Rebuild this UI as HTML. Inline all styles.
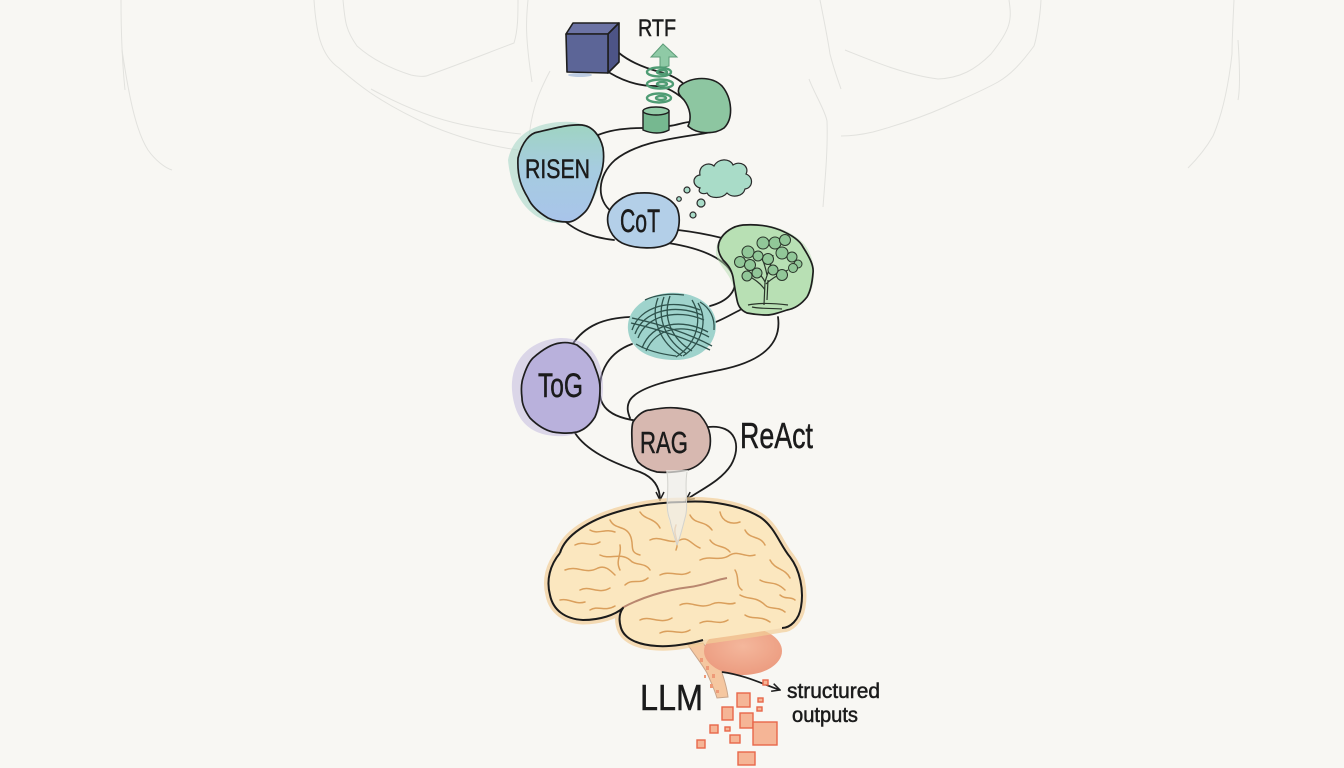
<!DOCTYPE html>
<html><head><meta charset="utf-8"><style>
html,body{margin:0;padding:0;background:#f8f7f3;}
svg{display:block;}
text{font-family:"Liberation Sans",sans-serif;fill:#1b1b1b;stroke:#1b1b1b;stroke-width:0.5;}
</style></head><body>
<svg width="1344" height="768" viewBox="0 0 1344 768" xmlns="http://www.w3.org/2000/svg">
<defs>
<marker id="ah" viewBox="0 0 10 10" refX="9" refY="5" markerWidth="10" markerHeight="10" orient="auto" markerUnits="userSpaceOnUse"><path d="M1,1 L9,5 L1,9" fill="none" stroke="#1e1e1e" stroke-width="1.5"/></marker>
<linearGradient id="gRisen" x1="0" y1="0" x2="0" y2="1"><stop offset="0" stop-color="#9fd4c2"/><stop offset="0.45" stop-color="#a6cce0"/><stop offset="1" stop-color="#a8c4ea"/></linearGradient>
<radialGradient id="gCb" cx="0.5" cy="0.4" r="0.6"><stop offset="0" stop-color="#f4b79c"/><stop offset="1" stop-color="#ec9c80"/></radialGradient>
</defs>
<rect width="1344" height="768" fill="#f8f7f3"/>

<!-- faint pencil background -->
<g fill="none" stroke="#e2e2de" stroke-width="1">
<path d="M121,0 C121,40 123,70 125,90"/>
<path d="M122,50 C128,90 135,130 148,150 C155,160 165,168 172,170"/>
<path d="M314,0 C316,30 320,55 339,68 C355,82 375,100 429,125 C460,138 490,146 518,150"/>
<path d="M343,0 C345,20 345,29 357,46 C375,62 395,70 411,75 C420,77 425,77 429,75 C460,64 490,52 514,43 C518,30 518,15 518,0"/>
<path d="M371,89 C400,105 430,118 464,125 C490,130 510,133 521,134"/>
<path d="M528,0 C526,20 525,36 532,82 M550,71 C540,90 530,110 528,150"/>
<path d="M820,0 C824,20 828,40 830,54 C834,70 838,80 841,89"/>
<path d="M1009,0 C1012,20 1011,29 991,54 C975,70 960,78 938,79 C905,75 870,60 845,50"/>
<path d="M1041,0 C1040,20 1036,40 1034,46 C1020,65 1010,75 998,82 C980,92 960,100 945,107 C920,118 895,126 873,132 C860,135 848,136 841,136"/>
<path d="M809,79 C815,95 825,110 827,121 C828,150 825,180 823,207"/>
<path d="M1234,0 C1233,20 1232,40 1232,54 C1228,90 1222,115 1213,136 C1205,150 1196,160 1188,168"/>
<path d="M1238,40 C1240,70 1240,90 1238,100"/>
</g>

<!-- connectors -->
<g fill="none" stroke="#1e1e1e" stroke-width="1.8" stroke-linecap="round">
<path d="M619,53 C630,62 645,68 660,72 C672,75 680,80 686,86"/>
<path d="M610,73 C625,82 640,86 655,86 C668,86 680,95 690,105"/>
<path d="M598,135 C610,130 625,128 642,128"/>
<path d="M669,126 C678,125 684,122 690,122"/>
<path d="M712,132 C680,138 640,140 615,160 C597,176 596,200 612,212"/>
<path d="M614,240 C595,238 570,232 554,209" marker-end="url(#ah)"/>
<path d="M678,230 C695,232 710,235 722,238"/>
<path d="M668,243 C700,248 725,258 733,275 C740,292 725,302 710,306"/>
<path d="M740,310 C730,315 722,320 713,323"/>
<path d="M778,317 C782,345 760,362 720,370 C680,378 640,385 630,400 C626,407 628,413 630,418"/>
<path d="M630,317 C605,318 585,325 572,345"/>
<path d="M632,344 C610,352 598,370 600,395 C602,415 625,420 647,422" marker-end="url(#ah)"/>
<path d="M708,427 C736,424 742,446 731,465 C721,481 700,490 686,500" marker-end="url(#ah)"/>
<path d="M575,433 C586,450 610,462 640,472 C655,478 660,488 660,500" marker-end="url(#ah)"/>
</g>

<!-- cube -->
<g stroke="#1e1e1e" stroke-width="1.6" stroke-linejoin="round">
<path d="M566,34 L573,23 L619,23 L608,34 Z" fill="#6c73a4"/>
<path d="M608,34 L619,23 L619,62 L608,73 Z" fill="#4d5487"/>
<path d="M566,34 L608,34 L608,73 L567,72 Z" fill="#5c6597"/>
</g>
<ellipse cx="580" cy="75" rx="12" ry="2" fill="#7f9fd0" opacity="0.5"/>

<!-- RTF -->
<text x="638" y="36" font-size="24" textLength="38" lengthAdjust="spacingAndGlyphs">RTF</text>

<!-- green arrow & spirals -->
<path d="M663,44 L677,57 L669,57 L669,66 L660,68 L660,57 L651,57 Z" fill="#8fcaa6" stroke="#5d9c78" stroke-width="1"/>
<g fill="none" stroke="#4f9c74" stroke-width="2.4">
<ellipse cx="659" cy="72" rx="12" ry="4.5"/><ellipse cx="662" cy="72" rx="5" ry="2"/>
<ellipse cx="660" cy="84" rx="13" ry="4.5"/><ellipse cx="662" cy="84" rx="5" ry="2"/>
<ellipse cx="659" cy="98" rx="12" ry="4.5"/><ellipse cx="661" cy="98" rx="5" ry="2"/>
</g>
<!-- cylinder -->
<path d="M643,111 L643,130 C652,134 662,134 669,130 L669,111 Z" fill="#76b890" stroke="#1e1e1e" stroke-width="1.4"/>
<ellipse cx="656" cy="111" rx="13" ry="4" fill="#92cca8" stroke="#1e1e1e" stroke-width="1.4"/>
<!-- crescent blob -->
<path d="M680,86 C692,76 712,76 722,86 C732,98 734,118 724,128 C714,135 696,134 688,126 C692,118 690,108 684,100 C680,96 676,92 680,86 Z" fill="#8dc6a1" stroke="#1e1e1e" stroke-width="1.6"/>

<!-- RISEN -->
<path d="M508,160 C512,140 528,124 560,122 C585,120 600,130 603,150 C606,180 592,215 568,222 C540,228 512,205 508,160 Z" fill="#a0d6c4" opacity="0.55"/>
<path d="M518,158 C522,142 530,133 538,132 C555,128 570,124 582,125 C592,126 600,135 603,148 C605,162 602,172 598,182 C594,196 590,207 585,212 C578,219 573,222 568,222 C558,222 552,220 548,218 C538,212 531,205 528,198 C522,188 517,178 518,158 Z" fill="url(#gRisen)" stroke="#1e1e1e" stroke-width="1.7"/>
<text x="525" y="178" font-size="27" textLength="65" lengthAdjust="spacingAndGlyphs">RISEN</text>

<!-- CoT -->
<path d="M608,215 C610,205 625,193 640,193 C655,192 670,196 677,208 C681,218 680,235 670,243 C658,250 635,249 622,243 C612,238 606,226 608,215 Z" fill="#b3cfe8" stroke="#1e1e1e" stroke-width="1.7"/>
<text x="620" y="232" font-size="32" textLength="40" lengthAdjust="spacingAndGlyphs">CoT</text>

<!-- thought bubbles & cloud -->
<g fill="#a9dcc8" stroke="#2a2a2a" stroke-width="1.2">
<circle cx="687" cy="190" r="3"/><circle cx="679" cy="199" r="2.3"/><circle cx="701" cy="203" r="4"/><circle cx="693" cy="215" r="3"/>
<path d="M700,188 C692,186 692,176 700,175 C698,166 708,161 714,166 C718,158 730,158 733,165 C740,160 750,166 746,174 C754,177 753,188 745,189 C743,197 732,198 727,193 C722,199 710,199 707,193 C702,195 697,192 700,188 Z"/>
</g>

<!-- tree blob -->
<path d="M716,255 C715,240 725,228 745,225 C765,222 790,228 805,245 C818,262 816,290 805,300 C795,310 775,316 757,315 C742,314 736,305 734,290 C732,275 720,268 716,255 Z" fill="#b3ddb0" opacity="0.5"/>
<path d="M720,240 C724,232 733,226 743,225 C757,224 770,226 780,230 C792,235 800,241 803,247 C810,258 814,266 813,273 C812,285 810,292 807,297 C800,306 793,309 787,310 C778,313 772,315 767,315 C758,315 752,314 747,313 C740,310 738,305 737,300 C735,290 734,283 733,277 C731,268 727,264 723,260 C718,253 717,246 720,240 Z" fill="#b8e0b4" stroke="#1e1e1e" stroke-width="1.7"/>
<!-- tree -->
<g stroke="#2a352a" stroke-width="1.2" fill="none">
<path d="M764,305 L765,282 C762,275 755,270 750,266 M765,282 C768,272 772,262 773,255 M766,284 C772,278 780,274 788,270 M765,290 C760,282 752,278 747,275 M767,275 C765,265 762,258 760,255 M767,300 L768,280"/>
<path d="M748,305 C758,303 772,303 788,305 M752,307 C760,309 770,308 782,309"/>
</g>
<g fill="#91c798" stroke="#2a352a" stroke-width="1">
<circle cx="740" cy="262" r="5.5"/><circle cx="748" cy="252" r="6"/><circle cx="763" cy="243" r="6"/><circle cx="775" cy="243" r="6"/><circle cx="785" cy="240" r="5.5"/>
<circle cx="782" cy="253" r="6"/><circle cx="792" cy="257" r="5"/><circle cx="798" cy="264" r="4"/><circle cx="793" cy="268" r="4.5"/><circle cx="782" cy="275" r="5.5"/>
<circle cx="773" cy="270" r="5"/><circle cx="750" cy="265" r="5.5"/><circle cx="747" cy="276" r="5"/><circle cx="757" cy="273" r="5"/><circle cx="768" cy="259" r="5.5"/><circle cx="758" cy="256" r="5"/>
</g>

<!-- knot -->
<path d="M628,330 C626,310 645,295 668,293 C695,291 716,305 716,325 C716,345 700,360 675,360 C650,360 630,350 628,330 Z" fill="#9fd3cc"/>
<g fill="none" stroke="#2e524c" stroke-width="1.3">
<path d="M632,330 C640,306 672,298 700,310"/><path d="M635,334 C643,311 674,303 702,315"/><path d="M638,338 C646,316 676,308 704,320"/>
<path d="M642,348 C652,322 682,318 708,332"/><path d="M646,351 C656,327 684,323 709,337"/>
<path d="M658,298 C650,318 660,343 682,356"/><path d="M664,297 C656,318 666,341 687,354"/><path d="M670,296 C662,318 672,339 692,351"/>
<path d="M692,300 C703,318 698,343 676,357"/><path d="M698,303 C708,320 703,343 683,356"/>
<path d="M632,318 C660,324 690,334 712,346"/><path d="M631,323 C658,329 688,339 710,350"/>
<path d="M636,344 C646,350 660,354 676,356"/><path d="M700,302 C710,308 715,318 714,330"/>
<path d="M645,300 C655,295 670,293 684,295"/>
</g>

<!-- ToG -->
<path d="M512,390 C510,360 530,340 560,338 C590,337 604,360 603,390 C602,420 585,438 555,436 C525,434 514,415 512,390 Z" fill="#b7aedb" opacity="0.45"/>
<path d="M523,378 C526,368 529,362 533,358 C542,350 551,344 560,343 C566,342 572,343 577,345 C584,350 590,356 593,362 C597,372 600,380 600,388 C600,400 598,410 595,417 C590,425 584,430 577,432 C568,434 560,433 553,432 C544,430 536,424 530,418 C525,411 522,404 522,398 C521,390 521,384 523,378 Z" fill="#b9b1dc" stroke="#1e1e1e" stroke-width="1.7"/>
<text x="538" y="397" font-size="34" textLength="45" lengthAdjust="spacingAndGlyphs">ToG</text>

<!-- RAG -->
<path d="M633,422 C638,414 645,410 650,410 C660,408 668,407 677,408 C688,409 696,411 700,415 C706,422 709,428 710,435 C711,443 710,450 707,455 C702,463 695,468 687,470 C677,472 667,473 657,472 C648,470 642,466 638,462 C634,456 632,450 632,442 C632,435 631,428 633,422 Z" fill="#d7b8b0" stroke="#1e1e1e" stroke-width="1.7"/>
<text x="640" y="453" font-size="31" textLength="48" lengthAdjust="spacingAndGlyphs">RAG</text>

<!-- ReAct -->
<text x="740" y="448" font-size="36" textLength="73" lengthAdjust="spacingAndGlyphs">ReAct</text>

<!-- brain stem -->
<path d="M688,645 L703,643 C710,652 716,660 720,667 C724,678 727,688 728,697 L717,698 C714,688 710,680 707,673 C702,664 696,657 688,645 Z" fill="#f5c7a0" stroke="#c9a58a" stroke-width="1"/>
<g fill="#ee9a78"><rect x="700" y="658" width="3" height="4"/><rect x="706" y="666" width="3" height="4"/><rect x="712" y="674" width="3" height="4"/><rect x="710" y="684" width="3" height="4"/><rect x="716" y="690" width="3" height="3"/><rect x="704" y="675" width="2" height="3"/></g>
<!-- cerebellum -->
<ellipse cx="743" cy="651" rx="39" ry="24" fill="url(#gCb)"/>

<!-- brain -->
<path d="M560,553 C565,535 590,520 617,512 C640,505 660,502 683,502 C710,500 740,505 760,517 C775,527 780,545 790,557 C800,570 804,590 801,607 C799,620 790,628 782,628 C760,632 730,636 703,640 C690,644 670,647 657,646 C640,645 625,640 621,628 C618,618 620,612 623,608 C615,615 600,620 583,620 C565,619 553,610 550,595 C546,580 550,565 560,553 Z" fill="#f3cf98" stroke="#f3cf98" stroke-width="9" stroke-linejoin="round" opacity="0.7"/>
<path d="M560,553 C565,535 590,520 617,512 C640,505 660,502 683,502 C710,500 740,505 760,517 C775,527 780,545 790,557 C800,570 804,590 801,607 C799,620 790,628 782,628 C760,632 730,636 703,640 C690,644 670,647 657,646 C640,645 625,640 621,628 C618,618 620,612 623,608 C615,615 600,620 583,620 C565,619 553,610 550,595 C546,580 550,565 560,553 Z" fill="#fbe7bf"/>
<g fill="none" stroke="#da9f5c" stroke-width="1.5" stroke-linecap="round">
<path d="M575,545 C585,540 590,548 600,542"/>
<path d="M565,570 C578,565 585,575 598,568 C605,565 610,570 615,575"/>
<path d="M590,530 C598,535 605,528 615,532"/>
<path d="M610,520 C615,530 625,525 630,535 C635,545 628,552 640,555"/>
<path d="M640,512 C645,520 655,518 660,528"/>
<path d="M600,555 C610,560 620,552 630,560 C635,566 645,562 650,570"/>
<path d="M580,590 C590,585 598,595 610,588"/>
<path d="M560,600 C570,598 575,605 585,602"/>
<path d="M650,540 C660,535 670,545 680,540 C688,536 692,545 700,548"/>
<path d="M690,515 C695,525 705,520 712,530"/>
<path d="M720,512 C722,522 732,525 740,522"/>
<path d="M745,530 C750,540 760,535 765,545"/>
<path d="M700,560 C710,555 720,562 730,555 C738,550 745,558 755,555"/>
<path d="M770,560 C775,570 785,568 790,578"/>
<path d="M660,575 C670,570 680,578 690,572"/>
<path d="M710,540 C715,548 725,545 730,552"/>
<path d="M760,580 C768,585 775,580 785,590"/>
<path d="M640,620 C650,615 660,625 672,618"/>
<path d="M680,605 C690,600 700,610 712,604 C720,600 728,606 735,603"/>
<path d="M660,633 C670,628 680,636 690,630"/>
<path d="M700,623 C710,618 718,626 728,620"/>
<path d="M740,595 C748,600 756,596 765,605 C770,610 778,606 785,612"/>
<path d="M745,615 C752,620 760,615 770,622"/>
<path d="M620,545 C622,555 615,560 620,570"/>
<path d="M676,525 C672,535 680,540 676,550"/>
<path d="M735,570 C740,578 735,585 742,590"/>
<path d="M590,610 C598,605 605,612 615,606"/>
<path d="M625,585 C632,578 640,585 648,578"/>
<path d="M780,595 C786,600 790,596 795,600"/>
</g>
<path d="M622,608 C640,598 665,590 690,587 C705,585 715,580 727,578" fill="none" stroke="#b9876f" stroke-width="2"/>
<g fill="none" stroke="#1b1b1b" stroke-width="2" stroke-linejoin="round">
<path d="M560,553 C565,535 590,520 617,512 C640,505 660,502 683,502 C710,500 740,505 760,517 C775,527 780,545 790,557 C800,570 804,590 801,607 C799,620 790,628 782,628"/>
<path d="M703,640 C690,644 670,647 657,646 C640,645 625,640 621,628 C618,618 620,612 623,608 C615,615 600,620 583,620 C565,619 553,610 550,595 C546,580 550,565 560,553"/>
</g>

<!-- smoke stream -->
<path d="M666,470 C669,490 664,505 669,520 C672,532 675,540 677,546 C680,538 683,528 685,518 C688,505 683,490 688,470 Z" fill="#efeeea" opacity="0.7"/>
<g fill="none" stroke="#d3d3ce" stroke-width="1">
<path d="M667,472 C670,492 664,505 670,520 C672,530 675,538 677,545"/>
<path d="M687,472 C684,490 689,505 685,518 C682,530 680,538 677,545"/>
</g>

<!-- LLM and outputs -->
<text x="640" y="710" font-size="36" textLength="63" lengthAdjust="spacingAndGlyphs">LLM</text>
<path d="M722,672 C745,675 765,685 780,690" fill="none" stroke="#1e1e1e" stroke-width="1.7" marker-end="url(#ah)"/>
<text x="787" y="698" font-size="21" textLength="93" lengthAdjust="spacingAndGlyphs">structured</text>
<text x="792" y="722" font-size="21" textLength="66" lengthAdjust="spacingAndGlyphs">outputs</text>
<g fill="#f5b596" stroke="#e8674a" stroke-width="1.4">
<rect x="737" y="693" width="13" height="14"/>
<rect x="722" y="707" width="11" height="13"/>
<rect x="740" y="713" width="13" height="15"/>
<rect x="753" y="722" width="24" height="23"/>
<rect x="710" y="725" width="8" height="8"/>
<rect x="725" y="727" width="5" height="4"/>
<rect x="730" y="735" width="10" height="8"/>
<rect x="697" y="740" width="8" height="8"/>
<rect x="738" y="752" width="17" height="13"/>
<rect x="763" y="680" width="5" height="5"/>
<rect x="758" y="698" width="5" height="4"/>
<rect x="757" y="707" width="5" height="4"/>
</g>
</svg>
</body></html>
